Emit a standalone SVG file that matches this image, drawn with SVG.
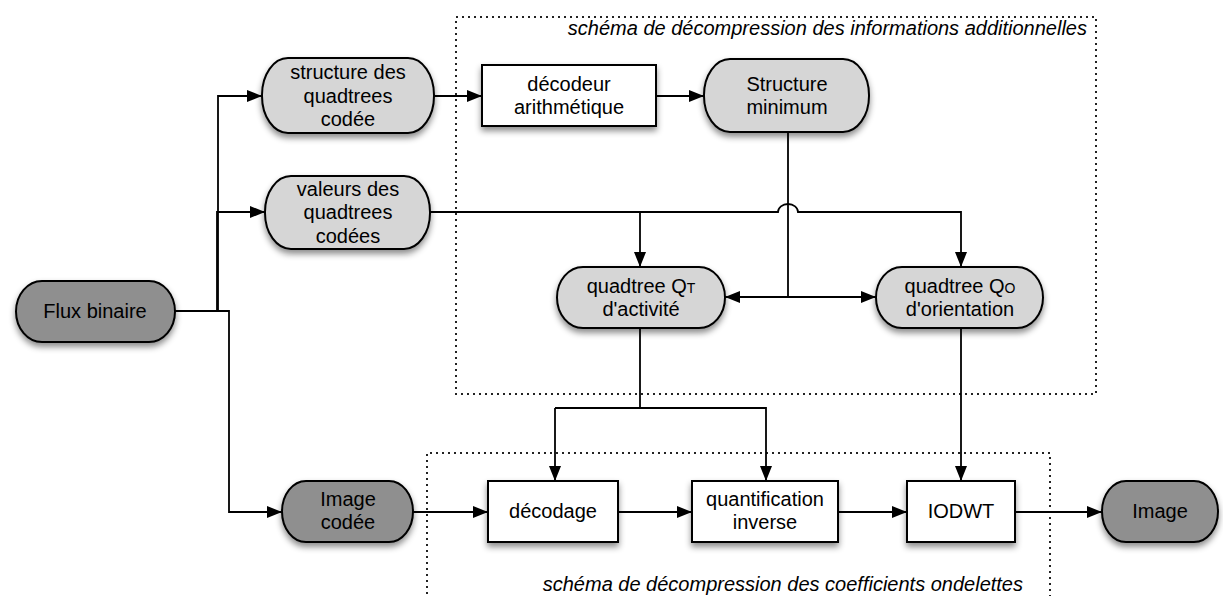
<svg xmlns="http://www.w3.org/2000/svg" width="1223" height="596" viewBox="0 0 1223 596">
<defs>
<filter id="sh" x="-20%" y="-30%" width="140%" height="170%">
<feDropShadow dx="0" dy="4" stdDeviation="3" flood-color="#000" flood-opacity="0.45"/>
</filter>
<marker id="ah" markerUnits="userSpaceOnUse" markerWidth="16" markerHeight="12" refX="15" refY="6" orient="auto">
<path d="M0,0 L15,6 L0,12 z" fill="#000"/>
</marker>
</defs>
<style>
.t{font-family:"Liberation Sans",Arial,sans-serif;font-size:20px;fill:#000;text-anchor:middle}
.ti{font-family:"Liberation Sans",Arial,sans-serif;font-size:20px;font-style:italic;fill:#000;text-anchor:end}
.light{fill:#d6d6d6;stroke:#000;stroke-width:2;filter:url(#sh)}
.dark{fill:#8f8f8f;stroke:#000;stroke-width:2;filter:url(#sh)}
.box{fill:#fff;stroke:#000;stroke-width:2;filter:url(#sh)}
.c{fill:none;stroke:#000;stroke-width:1.8}
.a{marker-end:url(#ah)}
.dot{fill:none;stroke:#222;stroke-width:2;stroke-dasharray:2 4}
.sm{font-size:14px}
</style>

<g id="cadres">
<rect class="dot" x="456" y="17" width="640" height="377"/>
<path class="dot" d="M427,600 V453 H1050 V600"/>
<text class="ti" x="1087" y="35">schéma de décompression des informations additionnelles</text>
<text class="ti" x="1023" y="591">schéma de décompression des coefficients ondelettes</text>
</g>

<g id="connectors">
<path class="c a" d="M175,311 H218 V96 H262"/>
<path class="c a" d="M175,311 H217 V212 H265"/>
<path class="c a" d="M175,311 H229 V512 H282"/>
<path class="c a" d="M434,96 H482"/>
<path class="c a" d="M656,96 H704"/>
<path class="c a" d="M430,212 H778 A10,8 0 0 1 798,212 H961 V267"/>
<path class="c a" d="M640,212 V267"/>
<path class="c" d="M788,132 V297"/>
<path class="c a" d="M788,297 H725"/>
<path class="c a" d="M788,297 H876"/>
<path class="c" d="M640,328 V408"/>
<path class="c a" d="M555,408 H766 V481"/>
<path class="c a" d="M555,408 V481"/>
<path class="c a" d="M961,328 V481"/>
<path class="c a" d="M413,512 H488"/>
<path class="c a" d="M618,512 H692"/>
<path class="c a" d="M838,512 H907"/>
<path class="c a" d="M1015,512 H1102"/>
</g>

<g id="flux">
<rect class="dark" x="16" y="281" width="159" height="61" rx="26" ry="30.5"/>
<text class="t" x="95" y="318">Flux binaire</text>
</g>
<g id="structure-codee">
<rect class="light" x="262" y="58" width="172" height="75" rx="26" ry="37"/>
<text class="t" x="348" y="79">structure des</text>
<text class="t" x="348" y="103">quadtrees</text>
<text class="t" x="348" y="126">codée</text>
</g>
<g id="valeurs-codees">
<rect class="light" x="265" y="176" width="165" height="73" rx="26" ry="36"/>
<text class="t" x="348" y="196">valeurs des</text>
<text class="t" x="348" y="219">quadtrees</text>
<text class="t" x="348" y="243">codées</text>
</g>
<g id="decodeur">
<rect class="box" x="482" y="65" width="174" height="61"/>
<text class="t" x="569" y="91">décodeur</text>
<text class="t" x="569" y="114">arithmétique</text>
</g>
<g id="structure-minimum">
<rect class="light" x="704" y="59" width="165" height="73" rx="26" ry="36"/>
<text class="t" x="787" y="91">Structure</text>
<text class="t" x="787" y="114">minimum</text>
</g>
<g id="qt">
<rect class="light" x="557" y="267" width="168" height="61" rx="26" ry="30.5"/>
<text class="t" x="641" y="293">quadtree Q<tspan class="sm">T</tspan></text>
<text class="t" x="641" y="316">d'activité</text>
</g>
<g id="qo">
<rect class="light" x="876" y="267" width="167" height="61" rx="26" ry="30.5"/>
<text class="t" x="960" y="293">quadtree Q<tspan class="sm">O</tspan></text>
<text class="t" x="960" y="316">d'orientation</text>
</g>
<g id="image-codee">
<rect class="dark" x="282" y="481" width="131" height="61" rx="24" ry="30.5"/>
<text class="t" x="348" y="506">Image</text>
<text class="t" x="348" y="529">codée</text>
</g>
<g id="decodage">
<rect class="box" x="488" y="481" width="130" height="61"/>
<text class="t" x="553" y="518">décodage</text>
</g>
<g id="quantification">
<rect class="box" x="692" y="481" width="146" height="61"/>
<text class="t" x="765" y="506">quantification</text>
<text class="t" x="765" y="529">inverse</text>
</g>
<g id="iodwt">
<rect class="box" x="907" y="481" width="108" height="61"/>
<text class="t" x="961" y="518">IODWT</text>
</g>
<g id="image">
<rect class="dark" x="1102" y="481" width="116" height="61" rx="24" ry="30.5"/>
<text class="t" x="1160" y="518">Image</text>
</g>
</svg>
